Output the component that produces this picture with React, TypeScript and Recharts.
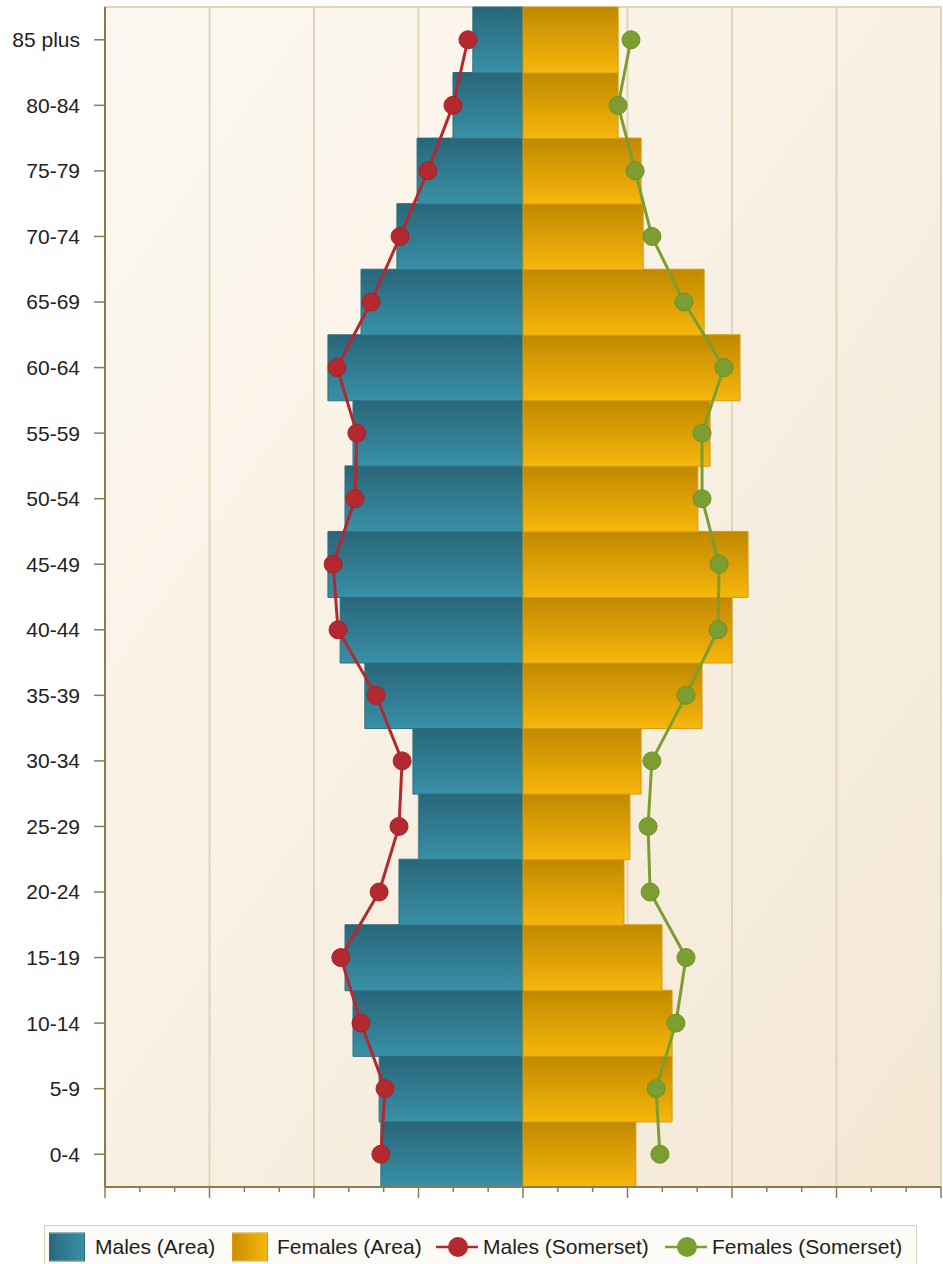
import React from 'react';
import { ComposedChart, Bar, Line, XAxis, YAxis, CartesianGrid, ReferenceLine, ReferenceArea } from 'recharts';

// age bands, bottom to top
const ageGroups = ['0-4', '5-9', '10-14', '15-19', '20-24', '25-29', '30-34', '35-39', '40-44', '45-49', '50-54', '55-59', '60-64', '65-69', '70-74', '75-79', '80-84', '85 plus'];

// males are negative so they draw left of the centre line
const malesArea = [-4.08, -4.13, -4.88, -5.11, -3.56, -2.99, -3.16, -4.54, -5.25, -5.6, -5.11, -4.88, -5.6, -4.65, -3.62, -3.04, -2.01, -1.44];
const femalesArea = [3.24, 4.28, 4.28, 3.99, 2.9, 3.07, 3.39, 5.14, 6.0, 6.46, 5.02, 5.37, 6.23, 5.2, 3.45, 3.39, 2.73, 2.73];
const malesSomerset = [-4.08, -3.96, -4.65, -5.23, -4.13, -3.56, -3.47, -4.22, -5.31, -5.45, -4.82, -4.77, -5.34, -4.36, -3.53, -2.73, -2.01, -1.58];
const femalesSomerset = [3.93, 3.82, 4.39, 4.68, 3.65, 3.59, 3.7, 4.68, 5.6, 5.63, 5.14, 5.14, 5.77, 4.62, 3.7, 3.22, 2.73, 3.1];

const xTicks = [-12, -11, -10, -9, -8, -7, -6, -5, -4, -3, -2, -1, 0, 1, 2, 3, 4, 5, 6, 7, 8, 9, 10, 11, 12];
const majorTicks = [-12, -9, -6, -3, 0, 3, 6, 9, 12];
const gridLines = [-9, -6, -3, 0, 3, 6, 9];

const data = ageGroups.map((age, i) => ({
    age,
    malesArea: malesArea[i],
    femalesArea: femalesArea[i],
    malesSomerset: malesSomerset[i],
    femalesSomerset: femalesSomerset[i],
}));

const AXIS = '#8b7b4e';
const GRID = '#e0d5bb';
const FONT = '"Liberation Sans", Arial, sans-serif';

const XTick = (props: any) => {
    const { x, y, payload } = props;
    const major = majorTicks.includes(payload.value);
    return <line x1={x} x2={x} y1={y} y2={y + (major ? 11 : 5)} stroke={AXIS} strokeWidth={1.5} />;
};

const LineIcon = ({ color }: { color: string }) => (
    <svg width={42} height={24} style={{ display: 'block' }}>
        <line x1={0} x2={42} y1={12} y2={12} stroke={color} strokeWidth={2.5} />
        <circle cx={22} cy={12} r={10} fill={color} />
    </svg>
);

const BoxIcon = ({ from, to, border }: { from: string; to: string; border: string }) => (
    <div style={{ width: 36, height: 29, background: `linear-gradient(to right, ${from}, ${to})`, border: `1px solid ${border}`, boxSizing: 'border-box' }} />
);

const legendItem = (left: number, child: React.ReactNode) => (
    <div style={{ position: 'absolute', left, top: 1247, transform: 'translateY(-50%)', display: 'flex', alignItems: 'center', whiteSpace: 'nowrap' }}>
        {child}
    </div>
);

export default function App() {
    return (
        <div style={{ position: 'absolute', left: 0, top: 0, width: 943, height: 1264, background: '#ffffff', fontFamily: FONT, overflow: 'hidden' }}>
            <ComposedChart
                width={943}
                height={1200}
                data={data}
                layout="vertical"
                stackOffset="sign"
                barCategoryGap={0}
                margin={{ top: 7, right: 2, left: 0, bottom: 0 }}
            >
                <defs>
                    <linearGradient id="bg" x1="0" y1="0" x2="1" y2="1">
                        <stop offset="0%" stopColor="#fcf8f1" />
                        <stop offset="100%" stopColor="#f4e8d4" />
                    </linearGradient>
                    <linearGradient id="maleFill" x1="0" y1="0" x2="0" y2="1">
                        <stop offset="0%" stopColor="#296679" />
                        <stop offset="100%" stopColor="#3890a7" />
                    </linearGradient>
                    <linearGradient id="femaleFill" x1="0" y1="0" x2="0" y2="1">
                        <stop offset="0%" stopColor="#c08800" />
                        <stop offset="100%" stopColor="#f7b70c" />
                    </linearGradient>
                </defs>
                <CartesianGrid horizontal={false} vertical={false} fill="url(#bg)" fillOpacity={1} />
                <ReferenceArea x1={-12} x2={12} fill="none" fillOpacity={0} stroke={GRID} strokeWidth={2} zIndex={-60} />
                {gridLines.map((v) => (
                    <ReferenceLine key={v} x={v} stroke={GRID} strokeWidth={2} zIndex={-50} />
                ))}
                <XAxis
                    type="number"
                    domain={[-12, 12]}
                    ticks={xTicks}
                    interval={0}
                    height={13}
                    tickSize={0}
                    tickMargin={0}
                    tickLine={false}
                    tick={<XTick />}
                    axisLine={{ stroke: AXIS, strokeWidth: 2 }}
                />
                <YAxis
                    type="category"
                    dataKey="age"
                    reversed
                    width={105}
                    interval={0}
                    tickSize={11}
                    tickMargin={14}
                    tick={{ fontSize: 21, fill: '#222222', fontFamily: FONT }}
                    tickLine={{ stroke: AXIS, strokeWidth: 1.5 }}
                    axisLine={{ stroke: AXIS, strokeWidth: 2 }}
                />
                <Bar dataKey="malesArea" stackId="pop" fill="url(#maleFill)" stroke="#2c6e80" strokeWidth={1} isAnimationActive={false} />
                <Bar dataKey="femalesArea" stackId="pop" fill="url(#femaleFill)" stroke="#d49c0a" strokeWidth={1} isAnimationActive={false} />
                <Line dataKey="malesSomerset" stroke="#b3292f" strokeWidth={3} dot={{ r: 9, fill: '#b3292f', stroke: '#a52228', strokeWidth: 1 }} isAnimationActive={false} />
                <Line dataKey="femalesSomerset" stroke="#7c9e30" strokeWidth={3} dot={{ r: 9, fill: '#7c9e30', stroke: '#6f8f28', strokeWidth: 1 }} isAnimationActive={false} />
            </ComposedChart>
            <div
                style={{
                    position: 'absolute',
                    left: 44,
                    top: 1225,
                    width: 873,
                    height: 50,
                    border: '1px solid #dcd2b8',
                    boxSizing: 'border-box',
                    background: '#fdfbf7',
                }}
            />
            <div style={{ fontSize: 21, color: '#1e1e1e' }}>
                {legendItem(49, <BoxIcon from="#2a6a7c" to="#3a8fa6" border="#2c6e80" />)}
                {legendItem(95, <span>Males (Area)</span>)}
                {legendItem(232, <BoxIcon from="#c99000" to="#f6b60c" border="#d49c0a" />)}
                {legendItem(277, <span>Females (Area)</span>)}
                {legendItem(436, <LineIcon color="#b3292f" />)}
                {legendItem(483, <span>Males (Somerset)</span>)}
                {legendItem(665, <LineIcon color="#7c9e30" />)}
                {legendItem(712, <span>Females (Somerset)</span>)}
            </div>
        </div>
    );
}
